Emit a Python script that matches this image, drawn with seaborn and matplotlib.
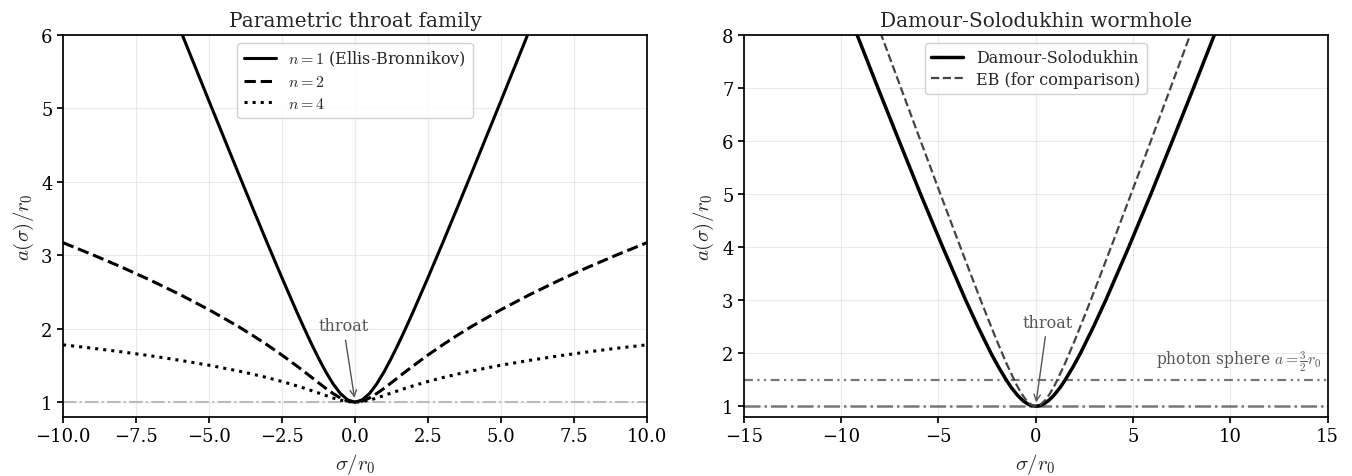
import matplotlib
matplotlib.use("Agg")
import matplotlib.pyplot as plt
import seaborn as sns
import numpy as np

# --- left panel: parametric throat family a(sigma)/r0 ---
sigma_left = [-10, -9, -8, -7, -6, -5, -4, -3.5, -3, -2.5, -2, -1.75, -1.5, -1.25, -1, -0.75, -0.5, -0.25,
              0, 0.25, 0.5, 0.75, 1, 1.25, 1.5, 1.75, 2, 2.5, 3, 3.5, 4, 5, 6, 7, 8, 9, 10]
a_n1 = [10.05, 9.055, 8.062, 7.071, 6.083, 5.099, 4.123, 3.640, 3.162, 2.693, 2.236, 2.016, 1.803, 1.601, 1.414, 1.25, 1.118, 1.031,
        1.0, 1.031, 1.118, 1.25, 1.414, 1.601, 1.803, 2.016, 2.236, 2.693, 3.162, 3.640, 4.123, 5.099, 6.083, 7.071, 8.062, 9.055, 10.05]
a_n2 = [3.170, 3.009, 2.839, 2.659, 2.466, 2.258, 2.031, 1.908, 1.778, 1.641, 1.495, 1.420, 1.343, 1.265, 1.189, 1.118, 1.057, 1.015,
        1.0, 1.015, 1.057, 1.118, 1.189, 1.265, 1.343, 1.420, 1.495, 1.641, 1.778, 1.908, 2.031, 2.258, 2.466, 2.659, 2.839, 3.009, 3.170]
a_n4 = [1.780, 1.735, 1.685, 1.631, 1.570, 1.503, 1.425, 1.381, 1.334, 1.281, 1.223, 1.192, 1.159, 1.125, 1.091, 1.057, 1.028, 1.008,
        1.0, 1.008, 1.028, 1.057, 1.091, 1.125, 1.159, 1.192, 1.223, 1.281, 1.334, 1.381, 1.425, 1.503, 1.570, 1.631, 1.685, 1.735, 1.780]
labels_left = [r"$n=1$ (Ellis-Bronnikov)", r"$n=2$", r"$n=4$"]

# --- right panel: Damour-Solodukhin vs EB ---
sigma_ds = [-15.07, -13.40, -11.30, -10.25, -9.18, -8.11, -7.02, -5.92, -4.78, -3.60, -2.97, -2.30, -1.93, -1.52, -1.25, -0.92, -0.64, -0.40, -0.20,
            0, 0.20, 0.40, 0.64, 0.92, 1.25, 1.52, 1.93, 2.30, 2.97, 3.60, 4.78, 5.92, 7.02, 8.11, 9.18, 10.25, 11.30, 13.40, 15.07]
a_ds = [13.6, 12.0, 10.0, 9.0, 8.0, 7.0, 6.0, 5.0, 4.0, 3.0, 2.5, 2.0, 1.75, 1.5, 1.35, 1.2, 1.1, 1.04, 1.01,
        1.0, 1.01, 1.04, 1.1, 1.2, 1.35, 1.5, 1.75, 2.0, 2.5, 3.0, 4.0, 5.0, 6.0, 7.0, 8.0, 9.0, 10.0, 12.0, 13.6]
sigma_eb = [-10, -9, -8, -7, -6, -5, -4, -3, -2.5, -2, -1.5, -1, -0.75, -0.5, -0.25,
            0, 0.25, 0.5, 0.75, 1, 1.5, 2, 2.5, 3, 4, 5, 6, 7, 8, 9, 10]
a_eb = [10.05, 9.055, 8.062, 7.071, 6.083, 5.099, 4.123, 3.162, 2.693, 2.236, 1.803, 1.414, 1.25, 1.118, 1.031,
        1.0, 1.031, 1.118, 1.25, 1.414, 1.803, 2.236, 2.693, 3.162, 4.123, 5.099, 6.083, 7.071, 8.062, 9.055, 10.05]
throat_a = 1.0
photon_a = 1.5

sns.set_theme(style="ticks")
plt.rcParams["font.family"] = ["DejaVu Serif"]
plt.rcParams["mathtext.fontset"] = "cm"
plt.rcParams["axes.edgecolor"] = "black"
plt.rcParams["xtick.color"] = "black"
plt.rcParams["ytick.color"] = "black"

fig, (ax1, ax2) = plt.subplots(1, 2, figsize=(13.52, 4.77), dpi=100)
fig.subplots_adjust(left=0.0466, right=0.982, top=0.925, bottom=0.124, wspace=0.166)

# left
ax1.axhline(throat_a, color="#bbbbbb", linestyle="-.", lw=1.5, zorder=1)
sns.lineplot(x=sigma_left, y=a_n1, ax=ax1, color="black", lw=2.2, linestyle="-", label=labels_left[0])
sns.lineplot(x=sigma_left, y=a_n2, ax=ax1, color="black", lw=2.2, linestyle="--", label=labels_left[1])
sns.lineplot(x=sigma_left, y=a_n4, ax=ax1, color="black", lw=2.2, linestyle=":", label=labels_left[2])
ax1.annotate("throat", xy=(0, 1.02), xytext=(-0.4, 1.98), ha="center", fontsize=11.5, color="#555555",
             arrowprops=dict(arrowstyle="->", color="#555555", lw=1))
ax1.set_xlim(-10, 10)
ax1.set_ylim(0.8, 6)
ax1.set_title("Parametric throat family", fontsize=14.5)
ax1.set_xlabel(r"$\sigma/r_0$", fontsize=15)
ax1.set_ylabel(r"$a(\sigma)/r_0$", fontsize=15)
ax1.legend(loc="upper center", fontsize=11.5, framealpha=0.9, labelspacing=0.3)

# right
ax2.axhline(throat_a, color="#777777", linestyle="-.", lw=1.8, zorder=1)
ax2.axhline(photon_a, color="#777777", linestyle=(0, (4, 2, 1, 2, 1, 2)), lw=1.6, zorder=1)
sns.lineplot(x=sigma_ds, y=a_ds, ax=ax2, color="black", lw=2.5, label="Damour-Solodukhin")
sns.lineplot(x=sigma_eb, y=a_eb, ax=ax2, color="#444444", lw=1.6, linestyle="--", label="EB (for comparison)")
ax2.annotate("throat", xy=(0, 1.02), xytext=(0.6, 2.5), ha="center", fontsize=11.5, color="#555555",
             arrowprops=dict(arrowstyle="->", color="#555555", lw=1))
ax2.text(14.7, 1.62, r"photon sphere $a=\frac{3}{2}r_0$", ha="right", va="bottom", fontsize=11.2, color="#555555")
ax2.set_xlim(-15, 15)
ax2.set_ylim(0.8, 8)
ax2.set_title("Damour-Solodukhin wormhole", fontsize=14.5)
ax2.set_xlabel(r"$\sigma/r_0$", fontsize=15)
ax2.set_ylabel(r"$a(\sigma)/r_0$", fontsize=15)
ax2.legend(loc="upper center", fontsize=11.5, framealpha=0.9, labelspacing=0.3)

for ax in (ax1, ax2):
    ax.grid(True, color="#dddddd", alpha=0.6, lw=0.8)
    ax.tick_params(labelsize=13, length=4)

fig.savefig("out.png", dpi=100)
